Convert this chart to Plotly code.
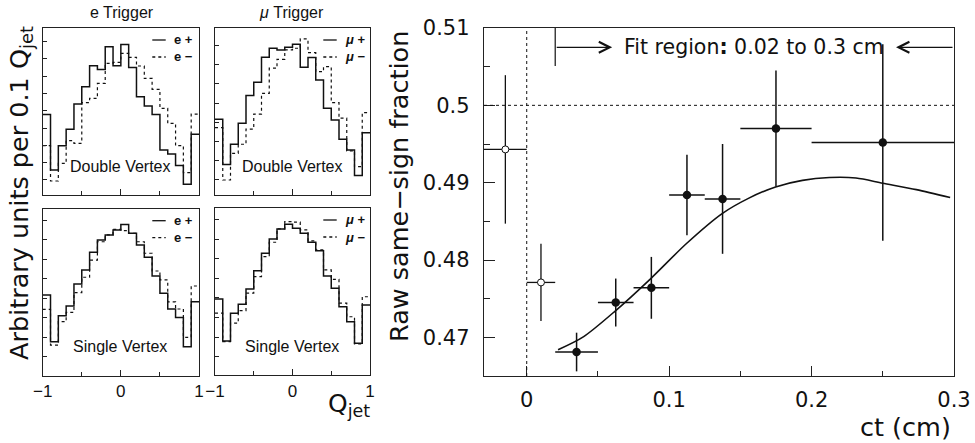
import plotly.graph_objects as go

W, H = 975, 443

# ---------------- data ----------------
qjet_edges = [-1.0, -0.9, -0.8, -0.7, -0.6, -0.5, -0.4, -0.3, -0.2, -0.1, 0.0,
              0.1, 0.2, 0.3, 0.4, 0.5, 0.6, 0.7, 0.8, 0.9, 1.0]

e_dv_pos = [4.66, 1.45, 2.85, 3.80, 5.26, 6.26, 7.47, 7.26, 8.57, 7.47,
            8.71, 7.38, 5.68, 5.14, 4.66, 2.60, 2.37, 1.70, 0.62, 3.51]
e_dv_neg = [2.85, 0.81, 1.83, 3.14, 2.99, 5.34, 5.59, 6.45, 7.61, 7.67,
            8.19, 7.96, 7.46, 6.74, 6.11, 5.01, 4.14, 2.85, 1.29, 4.68]
mu_dv_pos = [3.98, 1.61, 2.67, 3.77, 5.23, 5.93, 7.25, 7.72, 7.63, 7.77,
             7.93, 6.72, 7.23, 6.05, 4.56, 3.95, 2.93, 2.37, 1.02, 3.28]
mu_dv_neg = [3.54, 0.79, 2.19, 2.67, 3.47, 4.26, 5.35, 6.67, 7.14, 7.63,
             7.72, 8.21, 7.49, 6.49, 6.75, 4.86, 4.04, 2.32, 1.49, 4.33]
e_sv_pos = [4.14, 1.74, 3.08, 3.57, 4.70, 5.42, 6.33, 6.96, 7.22, 7.47,
            7.76, 7.30, 6.70, 6.07, 5.11, 4.23, 3.42, 2.99, 1.49, 3.79]
e_sv_neg = [3.40, 1.57, 2.77, 3.25, 4.26, 5.05, 5.93, 6.87, 7.22, 7.51,
            7.44, 7.30, 6.87, 6.28, 5.37, 4.91, 3.79, 3.42, 1.97, 4.60]
mu_sv_pos = [3.88, 1.73, 3.15, 3.61, 4.39, 5.32, 6.21, 6.94, 7.45, 7.69,
             7.48, 7.23, 6.77, 6.33, 5.05, 4.42, 3.48, 2.72, 1.62, 3.57]
mu_sv_neg = [3.15, 1.70, 2.64, 3.28, 4.17, 5.02, 6.04, 6.77, 7.45, 7.82,
             7.79, 7.40, 6.84, 6.38, 5.36, 4.88, 3.66, 2.97, 1.58, 3.99]

ct_filled = [0.035, 0.0625, 0.0875, 0.1125, 0.1375, 0.175, 0.25]
ct_halfwidth_filled = [0.015, 0.0125, 0.0125, 0.0125, 0.0125, 0.025, 0.05]
frac_filled = [0.4681, 0.4745, 0.4764, 0.4884, 0.4879, 0.4970, 0.4952]
frac_err_filled = [0.0025, 0.0031, 0.0040, 0.0052, 0.0071, 0.0075, 0.0127]

ct_open = [-0.015, 0.01]
ct_halfwidth_open = [0.015, 0.01]
frac_open = [0.4943, 0.4771]
frac_err_open = [0.0096, 0.0050]

fit_ct = [0.022, 0.04, 0.0621, 0.0871, 0.112, 0.1372, 0.156, 0.1747, 0.1936,
          0.2125, 0.2312, 0.2499, 0.2736, 0.2973]
fit_frac = [0.4684, 0.4701, 0.4734, 0.4776, 0.4821, 0.4860, 0.4880, 0.48945, 0.4903,
            0.49066, 0.4906, 0.48993, 0.4891, 0.48807]

fit_lo, fit_hi = 0.02, 0.3

# ---------------- helpers ----------------
def fx(p):
    return p / W


def fy(p):
    return 1 - p / H


LEFT_FONT = "Liberation Sans"
RIGHT_FONT = "DejaVu Sans"
INK = "#111111"

fig = go.Figure()

panels = [
    dict(ax="", xd=(42.7, 199), yd=(28.3, 195), pos=e_dv_pos, neg=e_dv_neg,
         yr=[0, 9.64], t0=0.87, labels=False, lep="e +", len_="e \u2212",
         title="Double Vertex"),
    dict(ax="2", xd=(215, 370), yd=(28.3, 195), pos=mu_dv_pos, neg=mu_dv_neg,
         yr=[0, 8.77], t0=0.84, labels=False, lep="<i>\u03bc</i> +", len_="<i>\u03bc</i> \u2212",
         title="Double Vertex"),
    dict(ax="3", xd=(42.7, 199), yd=(209, 375.7), pos=e_sv_pos, neg=e_sv_neg,
         yr=[0, 8.55], t0=0.97, labels=True, lep="e +", len_="e \u2212",
         title="Single Vertex"),
    dict(ax="4", xd=(215, 370), yd=(208.3, 375), pos=mu_sv_pos, neg=mu_sv_neg,
         yr=[0, 8.50], t0=0.93, labels=True, lep="<i>\u03bc</i> +", len_="<i>\u03bc</i> \u2212",
         title="Single Vertex"),
]

shapes = []
annotations = []

for p in panels:
    xa = "x" + p["ax"]
    ya = "y" + p["ax"]
    for vals, dash, w in ((p["neg"], "dot", 1.2), (p["pos"], "solid", 1.5)):
        fig.add_trace(go.Scatter(
            x=qjet_edges, y=list(vals) + [vals[-1]], mode="lines",
            line=dict(shape="hv", color=INK, width=w, dash=dash),
            xaxis=xa, yaxis=ya, showlegend=False, hoverinfo="skip"))
    key_x = "xaxis" + p["ax"]
    key_y = "yaxis" + p["ax"]
    fig.layout[key_x] = dict(
        domain=[fx(p["xd"][0]), fx(p["xd"][1])], range=[-1, 1], anchor=ya,
        showline=True, linecolor="#222", linewidth=1.3, mirror=True,
        ticks="inside", ticklen=6, tickwidth=1, tickcolor="#222",
        tickvals=[-1, 0, 1], ticktext=["\u22121", "0", "1"],
        showticklabels=p["labels"], showgrid=False, zeroline=False, automargin=False,
        tickfont=dict(family=LEFT_FONT, size=17, color=INK),
        minor=dict(dtick=0.5, tick0=0, ticklen=4, ticks="inside", tickcolor="#222", showgrid=False),
        fixedrange=True)
    fig.layout[key_y] = dict(
        domain=[fy(p["yd"][1]), fy(p["yd"][0])], range=p["yr"], anchor=xa,
        showline=True, linecolor="#222", linewidth=1.3, mirror=True,
        ticks="inside", ticklen=4, tickwidth=1, tickcolor="#222", automargin=False,
        tick0=p["t0"], dtick=1, showticklabels=False, showgrid=False, zeroline=False,
        fixedrange=True)

    x0, x1 = p["xd"]
    y0, y1 = p["yd"]
    lx0, lx1 = x1 - 46.7, x1 - 33.3
    rows = (y0 + 11.7, y0 + 28.7)
    for ry, dash, txt in ((rows[0], "solid", p["lep"]), (rows[1], "dot", p["len_"])):
        shapes.append(dict(type="line", xref="paper", yref="paper",
                           x0=fx(lx0), x1=fx(lx1), y0=fy(ry), y1=fy(ry),
                           line=dict(color=INK, width=1.3, dash=dash)))
        annotations.append(dict(xref="paper", yref="paper", x=fx(x1 - 27), y=fy(ry),
                                xanchor="left", yanchor="middle", showarrow=False,
                                text="<b>" + txt + "</b>",
                                font=dict(family=LEFT_FONT, size=13, color=INK)))
    annotations.append(dict(xref="paper", yref="paper", x=fx((x0 + x1) / 2 - 0.5),
                            y=fy(y1 - 29), xanchor="center", yanchor="middle",
                            showarrow=False, text=p["title"],
                            font=dict(family=LEFT_FONT, size=16, color=INK)))

annotations.append(dict(xref="paper", yref="paper", x=fx(122), y=fy(12), showarrow=False,
                        xanchor="center", yanchor="middle", text="e Trigger",
                        font=dict(family=LEFT_FONT, size=16, color=INK)))
annotations.append(dict(xref="paper", yref="paper", x=fx(291), y=fy(12), showarrow=False,
                        xanchor="center", yanchor="middle", text="<i>\u03bc</i> Trigger",
                        font=dict(family=LEFT_FONT, size=16, color=INK)))
annotations.append(dict(xref="paper", yref="paper", x=fx(21), y=fy(193), showarrow=False,
                        xanchor="center", yanchor="middle", textangle=-90,
                        text="Arbitrary units per 0.1 Q<sub>jet</sub>",
                        font=dict(family=RIGHT_FONT, size=25.5, color=INK)))
annotations.append(dict(xref="paper", yref="paper", x=fx(372), y=fy(405), showarrow=False,
                        xanchor="right", yanchor="middle",
                        text="Q<sub>jet</sub>",
                        font=dict(family=RIGHT_FONT, size=25, color=INK)))

# ---------------- right panel ----------------
fig.add_trace(go.Scatter(
    x=fit_ct, y=fit_frac, mode="lines", line=dict(color=INK, width=1.6, shape="spline", smoothing=0.8),
    xaxis="x5", yaxis="y5", showlegend=False, hoverinfo="skip"))
fig.add_trace(go.Scatter(
    x=ct_open, y=frac_open, mode="markers",
    marker=dict(symbol="circle", size=7, color="white", line=dict(color=INK, width=1)),
    error_x=dict(type="data", array=ct_halfwidth_open, color=INK, thickness=1.3, width=0),
    error_y=dict(type="data", array=frac_err_open, color=INK, thickness=1.3, width=0),
    xaxis="x5", yaxis="y5", showlegend=False))
fig.add_trace(go.Scatter(
    x=ct_filled, y=frac_filled, mode="markers",
    marker=dict(symbol="circle", size=8.5, color=INK, line=dict(color=INK, width=0)),
    error_x=dict(type="data", array=ct_halfwidth_filled, color=INK, thickness=1.5, width=0),
    error_y=dict(type="data", array=frac_err_filled, color=INK, thickness=1.5, width=0),
    xaxis="x5", yaxis="y5", showlegend=False))

fig.layout["xaxis5"] = dict(
    domain=[fx(484), fx(954)], range=[-0.03, 0.3], anchor="y5",
    showline=True, linecolor="#222", linewidth=1.4, mirror=True,
    ticks="inside", ticklen=10, tickwidth=1.2, tickcolor="#222",
    tickvals=[0, 0.1, 0.2, 0.3], ticktext=["0", "0.1", "0.2", "0.3"],
    minor=dict(tickvals=[0.05, 0.15, 0.25], ticklen=5, ticks="inside", tickcolor="#222", showgrid=False),
    tickfont=dict(family=RIGHT_FONT, size=21, color=INK), ticklabelstandoff=5,
    showgrid=False, zeroline=False, fixedrange=True, automargin=False)
fig.layout["yaxis5"] = dict(
    domain=[fy(376), fy(28)], range=[0.465, 0.51], anchor="x5",
    showline=True, linecolor="#222", linewidth=1.4, mirror=True,
    ticks="inside", ticklen=11, tickwidth=1.2, tickcolor="#222",
    tickvals=[0.47, 0.48, 0.49, 0.5, 0.51], ticktext=["0.47", "0.48", "0.49", "0.5", "0.51"],
    minor=dict(dtick=0.005, tick0=0.465, ticklen=6, ticks="inside", tickcolor="#222", showgrid=False),
    tickfont=dict(family=RIGHT_FONT, size=21, color=INK), ticklabelstandoff=9,
    showgrid=False, zeroline=False, fixedrange=True, automargin=False)

shapes.append(dict(type="line", xref="x5 domain", yref="y5", x0=0, x1=1, y0=0.5, y1=0.5,
                   line=dict(color=INK, width=1, dash="dot")))
shapes.append(dict(type="line", xref="x5", yref="y5 domain", x0=0, x1=0, y0=0, y1=1,
                   line=dict(color=INK, width=1, dash="dot")))

fit_y = 0.5075
shapes.append(dict(type="line", xref="x5", yref="y5", x0=fit_lo, x1=fit_lo, y0=0.5051, y1=0.51,
                   line=dict(color=INK, width=1.2)))
annotations.append(dict(xref="x5", yref="y5", axref="x5", ayref="y5",
                        x=0.06, y=fit_y, ax=fit_lo, ay=fit_y, text="", showarrow=True,
                        arrowhead=5, arrowsize=1.8, arrowwidth=1.2, arrowcolor=INK, standoff=0))
annotations.append(dict(xref="x5", yref="y5", axref="x5", ayref="y5",
                        x=0.2593, y=fit_y, ax=fit_hi, ay=fit_y, text="", showarrow=True,
                        arrowhead=5, arrowsize=1.8, arrowwidth=1.2, arrowcolor=INK, standoff=0))
annotations.append(dict(xref="x5", yref="y5", x=0.1597, y=fit_y, showarrow=False,
                        xanchor="center", yanchor="middle",
                        text="Fit region<b>:</b> 0.02 to 0.3 cm",
                        font=dict(family=RIGHT_FONT, size=20.5, color=INK)))
annotations.append(dict(xref="paper", yref="paper", x=fx(399), y=fy(187), showarrow=False,
                        xanchor="center", yanchor="middle", textangle=-90,
                        text="Raw same\u2212sign fraction",
                        font=dict(family=RIGHT_FONT, size=25.5, color=INK)))
annotations.append(dict(xref="paper", yref="paper", x=fx(953), y=fy(427), showarrow=False,
                        xanchor="right", yanchor="middle", text="ct (cm)",
                        font=dict(family=RIGHT_FONT, size=25.5, color=INK)))

fig.update_layout(
    width=W, height=H, margin=dict(l=0, r=0, t=0, b=0, pad=0), autosize=False,
    paper_bgcolor="white", plot_bgcolor="white",
    showlegend=False, shapes=shapes, annotations=annotations,
)

fig.write_html(
    "out.html",
    config={"displayModeBar": False},
    post_script="document.body.style.margin='0';document.body.style.overflow='hidden';",
)
